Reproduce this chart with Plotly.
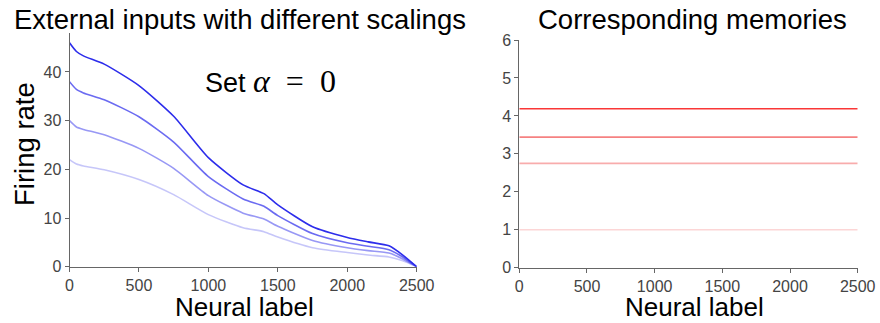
import plotly.graph_objects as go

# ---- data ----
neural_label = [0, 50, 100, 250, 500, 750, 1000, 1250, 1400, 1500, 1750, 2000, 2150, 2300, 2400, 2500]
input_s4 = [46.0, 44.2, 43.3, 41.6, 37.2, 30.9, 22.4, 16.8, 15.0, 12.7, 8.2, 6.0, 5.1, 4.3, 2.4, 0.0]
input_s3 = [38.0, 36.4, 35.7, 34.3, 30.8, 25.6, 18.5, 13.9, 12.4, 10.5, 6.8, 4.9, 4.2, 3.5, 2.0, 0.0]
input_s2 = [30.0, 28.7, 28.2, 27.1, 24.3, 20.2, 14.6, 11.0, 9.8, 8.3, 5.4, 3.9, 3.3, 2.8, 1.6, 0.0]
input_s1 = [22.0, 21.1, 20.7, 19.9, 17.9, 14.8, 10.7, 8.0, 7.2, 6.1, 3.9, 2.9, 2.4, 2.0, 1.2, 0.0]
inputs = [input_s1, input_s2, input_s3, input_s4]
input_colors = ["rgba(50,50,235,0.28)", "rgba(50,50,235,0.5)", "rgba(50,50,235,0.72)", "rgba(45,45,235,1)"]

memory_x = [0, 2500]
memory_levels = [1.0, 2.75, 3.44, 4.19]
memory_colors = ["rgba(240,70,70,0.22)", "rgba(240,70,70,0.45)", "rgba(240,70,70,0.68)", "rgba(250,55,55,1)"]

left_xticks = [0, 500, 1000, 1500, 2000, 2500]
left_yticks = [0, 10, 20, 30, 40]
right_yticks = [0, 1, 2, 3, 4, 5, 6]

W, H = 880, 323


def px(xp):
    return xp / W


def py(yp):
    return 1 - yp / H


fig = go.Figure()

for ys, c in zip(inputs, input_colors):
    fig.add_trace(go.Scatter(x=neural_label, y=ys, mode="lines",
                             line=dict(color=c, width=1.6, shape="spline", smoothing=0.6),
                             xaxis="x", yaxis="y", showlegend=False, hoverinfo="skip"))

for lv, c in zip(memory_levels, memory_colors):
    fig.add_trace(go.Scatter(x=memory_x, y=[lv, lv], mode="lines",
                             line=dict(color=c, width=1.6),
                             xaxis="x2", yaxis="y2", showlegend=False, hoverinfo="skip"))

FONT = "Liberation Sans, Arial, Helvetica, sans-serif"
axis_common = dict(showgrid=False, zeroline=False, showline=True, linecolor="#666",
                   linewidth=1, ticks="outside", ticklen=4, tickcolor="#666",
                   automargin=False,
                   tickfont=dict(family=FONT, size=16, color="#444"))

fig.update_layout(
    width=W, height=H,
    margin=dict(l=0, r=0, t=0, b=0),
    plot_bgcolor="white", paper_bgcolor="white",
    xaxis=dict(domain=[px(69.5), px(416.7)], range=[0, 2500], tickvals=left_xticks,
               anchor="y", **axis_common),
    yaxis=dict(domain=[py(266.7), py(33)], range=[0, 48], tickvals=left_yticks,
               anchor="x", **axis_common),
    xaxis2=dict(domain=[px(519.3), px(857.7)], range=[0, 2500], tickvals=left_xticks,
                anchor="y2", **axis_common),
    yaxis2=dict(domain=[py(267.7), py(40)], range=[0, 6], tickvals=right_yticks,
                anchor="x2", **axis_common),
)


def ann(text, x, y, size, angle=0, family=FONT):
    fig.add_annotation(text=text, x=px(x), y=py(y), xref="paper", yref="paper",
                       xanchor="center", yanchor="middle", showarrow=False, textangle=angle,
                       font=dict(family=family, size=size, color="black"))


ann("External inputs with different scalings", 240, 19, 27.5)
ann("Corresponding memories", 692, 19, 27.5)
ann("Firing rate", 24, 144, 27.5, angle=-90)
ann("Neural label", 244, 307, 26)
ann("Neural label", 694, 307, 26)
ann("Set&nbsp;<span style='font-family:Liberation Serif, Times New Roman, serif;font-size:32px'>"
    "<i>α</i>&nbsp;&nbsp;=&nbsp;&nbsp;0</span>",
    270, 81, 27)

# remove the browser's default 8px body margin so the figure fills the window exactly
fig.write_html("out.html", config={"displayModeBar": False},
               post_script="document.body.style.margin='0px';")
